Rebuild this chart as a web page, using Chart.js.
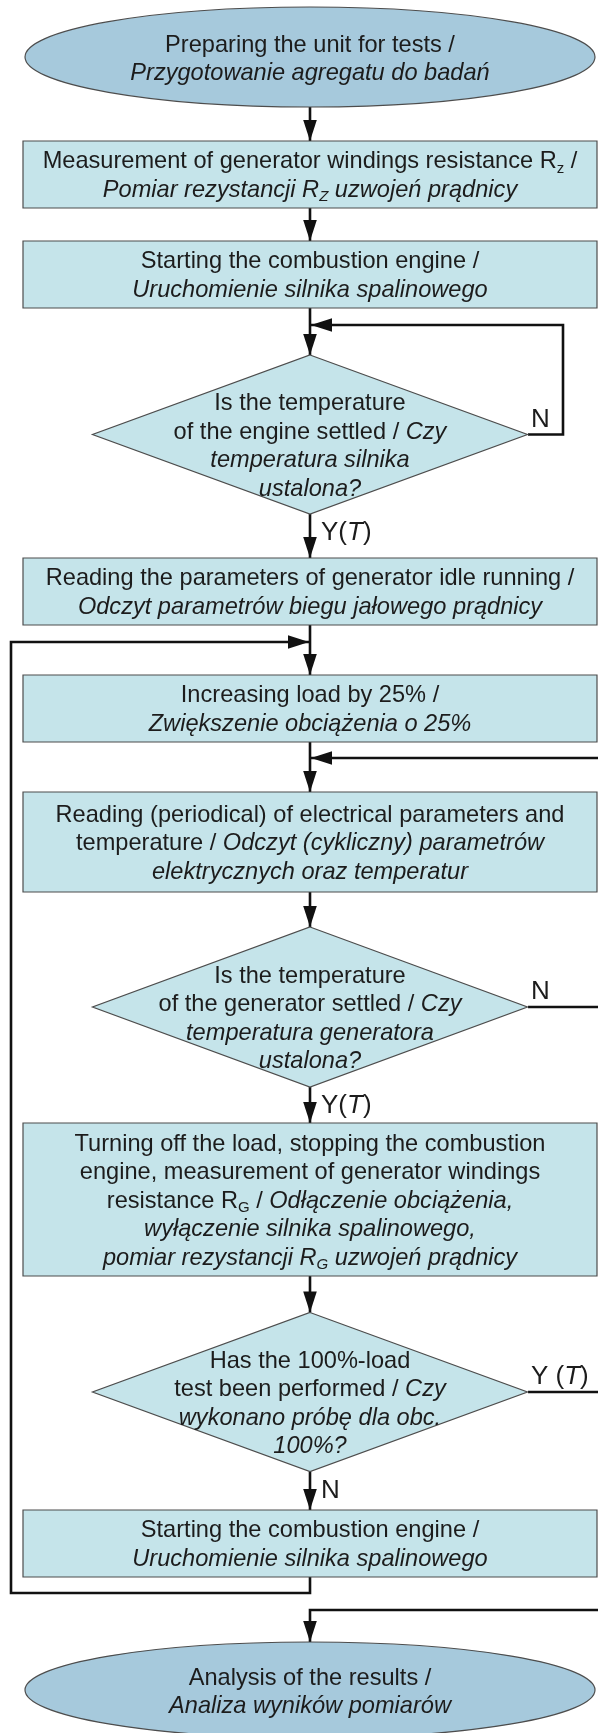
<!DOCTYPE html>
<html>
<head>
<meta charset="utf-8">
<script src="https://cdn.jsdelivr.net/npm/chart.js@4/dist/chart.umd.min.js"></script>
<style>
  html, body { margin: 0; padding: 0; background: #fff; }
  #wrap { width: 598px; height: 1733px; position: relative; }
</style>
</head>
<body>
<div id="wrap"><canvas id="flowChart"></canvas></div>
<script>
// steps of the procedure, top to bottom (*...* = italic, _{..} = subscript)
var stepText = [
  ["Preparing the unit for tests /", "*Przygotowanie agregatu do badań*"],
  ["Measurement of generator windings resistance R_{z} /", "*Pomiar rezystancji R_{Z} uzwojeń prądnicy*"],
  ["Starting the combustion engine /", "*Uruchomienie silnika spalinowego*"],
  ["Is the temperature", "of the engine settled / *Czy*", "*temperatura silnika*", "*ustalona?*"],
  ["Reading the parameters of generator idle running /", "*Odczyt parametrów biegu jałowego prądnicy*"],
  ["Increasing load by 25% /", "*Zwiększenie obciążenia o 25%*"],
  ["Reading (periodical) of electrical parameters and", "temperature / *Odczyt (cykliczny) parametrów*", "*elektrycznych oraz temperatur*"],
  ["Is the temperature", "of the generator settled / *Czy*", "*temperatura generatora*", "*ustalona?*"],
  ["Turning off the load, stopping the combustion", "engine, measurement of generator windings", "resistance R_{G} / *Odłączenie obciążenia,*", "*wyłączenie silnika spalinowego,*", "*pomiar rezystancji R_{G} uzwojeń prądnicy*"],
  ["Has the 100%-load", "test been performed / *Czy*", "*wykonano próbę dla obc.*", "*100%?*"],
  ["Starting the combustion engine /", "*Uruchomienie silnika spalinowego*"],
  ["Analysis of the results /", "*Analiza wyników pomiarów*"]
];
var stepKind = ["terminal", "process", "process", "decision", "process", "process",
                "process", "decision", "process", "decision", "process", "terminal"];
// centre of each step on the vertical axis
var stepY = [57, 174.5, 274.5, 434.5, 591.5, 708.5, 842, 1007, 1199.5, 1392, 1543.5, 1690];

// straight links step -> next step, with their branch label
var downFrom = [0, 1, 2, 3, 4, 5, 6, 7, 8, 9];
var downLabel = ["", "", "", "Y(*T*)", "", "", "", "Y(*T*)", "", "N"];

// return links (waypoints on the axes)
var loopPaths = [
  [[528, 434.5], [563, 434.5], [563, 325], [311, 325]],
  [[528, 1007], [604, 1007], [604, 758], [311, 758]],
  [[310, 1577], [310, 1593], [11, 1593], [11, 642], [309, 642]],
  [[528, 1392], [604, 1392], [604, 1610], [310, 1610], [310, 1642]]
];
var loopLabel = ["N", "N", "", "Y (*T*)"];

// ---- styles ----
var column = 310;
var halfH = [50, 33.5, 33.5, 79.5, 33.5, 33.5, 50, 80, 76.5, 79.5, 33.5, 48];
var halfW = { terminal: 285, process: 287, decision: 217.5 };
var fills = { terminal: "#a6c9dc", process: "#c5e4ea", decision: "#c5e4ea" };
var edge = "#4d4d4d";
var ink = "#1c1c1c";
var fontFamily = "'Liberation Sans', Arial, sans-serif";
var textSize = 23.6, labelSize = 26, lineGap = 28.5;
var textShift = { terminal: 1, process: 0, decision: 10.5 };

function font(it, size) {
  return (it ? "italic " : "") + size + "px " + fontFamily;
}

function parseLine(line) {
  var segs = [], it = false, buf = "", i = 0;
  while (i < line.length) {
    var c = line[i];
    if (c === "*") {
      if (buf) segs.push({ t: buf, it: it, sub: false });
      buf = ""; it = !it; i++;
    } else if (c === "_" && line[i + 1] === "{") {
      if (buf) segs.push({ t: buf, it: it, sub: false });
      buf = "";
      var end = line.indexOf("}", i);
      segs.push({ t: line.slice(i + 2, end), it: it, sub: true });
      i = end + 1;
    } else { buf += c; i++; }
  }
  if (buf) segs.push({ t: buf, it: it, sub: false });
  return segs;
}

function richText(ctx, line, x, y, size, align) {
  var segs = parseLine(line);
  var subSize = Math.round(size * 0.65);
  var total = 0;
  segs.forEach(function (s) {
    ctx.font = font(s.it, s.sub ? subSize : size);
    s.w = ctx.measureText(s.t).width;
    total += s.w;
  });
  var px = align === "left" ? x : x - total / 2;
  ctx.textBaseline = "alphabetic";
  ctx.textAlign = "left";
  ctx.fillStyle = ink;
  segs.forEach(function (s) {
    ctx.font = font(s.it, s.sub ? subSize : size);
    ctx.fillText(s.t, px, s.sub ? y + size * 0.2 : y);
    px += s.w;
  });
}

// build datasets
var nodePoints = stepY.map(function (y) { return { x: column, y: y }; });
var links = [];
downFrom.forEach(function (i, k) {
  links.push({
    pts: [[column, stepY[i] + halfH[i]], [column, stepY[i + 1] - halfH[i + 1]]],
    label: downLabel[k]
  });
});
loopPaths.forEach(function (p, k) { links.push({ pts: p, label: loopLabel[k] }); });

var datasets = [{
  label: "steps",
  data: nodePoints,
  pointRadius: 0,
  showLine: false
}];
links.forEach(function (l) {
  datasets.push({
    label: "link",
    data: l.pts.map(function (p) { return { x: p[0], y: p[1] }; }),
    showLine: true,
    borderColor: "#111",
    borderWidth: 2.6,
    pointRadius: 0,
    tension: 0,
    fill: false
  });
});

var flowPlugin = {
  id: "flowShapes",
  afterDatasetsDraw: function (chart) {
    var ctx = chart.ctx;
    var xs = chart.scales.x, ys = chart.scales.y;
    var nodes = chart.getDatasetMeta(0).data;
    ctx.save();
    // shapes
    nodes.forEach(function (pt, i) {
      var kind = stepKind[i];
      var cx = pt.x, cy = pt.y;
      var w = xs.getPixelForValue(column + halfW[kind]) - cx;
      var h = ys.getPixelForValue(stepY[i] + halfH[i]) - cy;
      ctx.beginPath();
      if (kind === "terminal") {
        ctx.ellipse(cx, cy, w, h, 0, 0, Math.PI * 2);
      } else if (kind === "decision") {
        ctx.moveTo(cx, cy - h); ctx.lineTo(cx + w, cy);
        ctx.lineTo(cx, cy + h); ctx.lineTo(cx - w, cy);
        ctx.closePath();
      } else {
        ctx.rect(cx - w, cy - h, w * 2, h * 2);
      }
      ctx.fillStyle = fills[kind];
      ctx.fill();
      ctx.lineWidth = 1.2;
      ctx.strokeStyle = edge;
      ctx.stroke();
    });
    // arrow heads and branch labels
    links.forEach(function (l, k) {
      var pts = chart.getDatasetMeta(k + 1).data;
      var a = pts[pts.length - 2], b = pts[pts.length - 1];
      var ang = Math.atan2(b.y - a.y, b.x - a.x);
      ctx.save();
      ctx.translate(b.x, b.y);
      ctx.rotate(ang);
      ctx.beginPath();
      ctx.moveTo(0, 0); ctx.lineTo(-21, -6.8); ctx.lineTo(-21, 6.8);
      ctx.closePath();
      ctx.fillStyle = "#111";
      ctx.fill();
      ctx.restore();
      if (l.label) {
        var s = pts[0], n = pts[1];
        if (Math.abs(n.y - s.y) < 1) {
          richText(ctx, l.label, s.x + 3, s.y - 8, labelSize, "left");
        } else {
          richText(ctx, l.label, s.x + 11, s.y + 26, labelSize, "left");
        }
      }
    });
    // step texts
    nodes.forEach(function (pt, i) {
      var lines = stepText[i];
      var shift = textShift[stepKind[i]];
      lines.forEach(function (line, j) {
        var cy = pt.y + shift + (j - (lines.length - 1) / 2) * lineGap;
        richText(ctx, line, pt.x, cy + 8, textSize, "center");
      });
    });
    ctx.restore();
  }
};

new Chart(document.getElementById("flowChart").getContext("2d"), {
  type: "scatter",
  data: { datasets: datasets },
  options: {
    responsive: true,
    maintainAspectRatio: false,
    animation: false,
    layout: { padding: 0 },
    plugins: { legend: { display: false }, tooltip: { enabled: false } },
    scales: {
      x: { type: "linear", min: 0, max: 598, display: false },
      y: { type: "linear", min: 0, max: 1733, reverse: true, display: false }
    }
  },
  plugins: [flowPlugin]
});
</script>
</body>
</html>
